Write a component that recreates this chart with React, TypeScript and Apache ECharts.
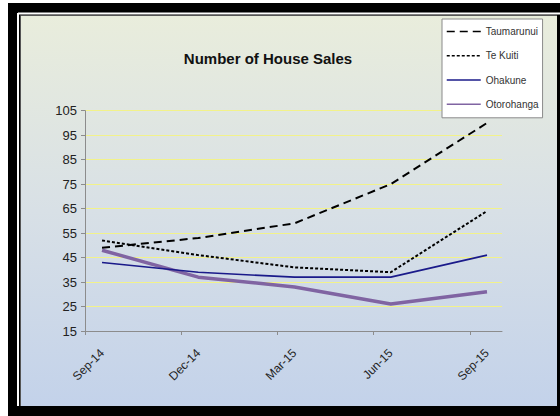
import React, { useEffect, useRef } from "react";
import * as echarts from "echarts";

const categories = ["Sep-14", "Dec-14", "Mar-15", "Jun-15", "Sep-15"];
const taumarunui = [49, 53, 59, 75, 100];
const teKuiti = [52, 46, 41, 39, 64];
const ohakune = [43, 39, 37, 37, 46];
const otorohanga = [48, 37, 33, 26, 31];
const yTicks = [15, 25, 35, 45, 55, 65, 75, 85, 95, 105];

const X_MIN = -0.177;
const X_MAX = 4.156;

const toPairs = (vals: number[]) => vals.map((v, i) => [i, v]);

export default function App() {
  const ref = useRef<HTMLDivElement>(null);
  useEffect(() => {
    if (!ref.current) return;
    const chart = echarts.init(ref.current, null, { renderer: "svg" });
    const font = "'Liberation Sans', Arial, sans-serif";
    const idx = categories.map((_, i) => i);
    const legendItem = (name: string) => ({
      name,
      itemStyle: { opacity: 0 },
      lineStyle: { width: 1.5 },
    });
    chart.setOption({
      animation: false,
      backgroundColor: "#ffffff",
      graphic: [
        { type: "rect", z: -10, silent: true, shape: { x: 8, y: 3, width: 552, height: 413 }, style: { fill: "#000000" } },
        {
          type: "rect", z: -9, silent: true,
          shape: { x: 21, y: 16, width: 536, height: 390 },
          style: {
            fill: new echarts.graphic.LinearGradient(0, 0, 0, 1, [
              { offset: 0, color: "#e9eddc" },
              { offset: 0.5, color: "#d8e0e6" },
              { offset: 1, color: "#c3d2ea" },
            ]),
          },
        },
        { type: "line", z: -8, silent: true, shape: { x1: 18, y1: 13.5, x2: 560, y2: 13.5 }, style: { stroke: "#ffffff", lineWidth: 2 } },
        { type: "line", z: -8, silent: true, shape: { x1: 18, y1: 13, x2: 18, y2: 406 }, style: { stroke: "#ffffff", lineWidth: 2 } },
        { type: "line", z: -8, silent: true, shape: { x1: 20.5, y1: 15.5, x2: 557, y2: 15.5 }, style: { stroke: "#555555", lineWidth: 1 } },
        { type: "line", z: -8, silent: true, shape: { x1: 20.5, y1: 15.5, x2: 20.5, y2: 406 }, style: { stroke: "#555555", lineWidth: 1 } },
      ],
      title: {
        text: "Number of House Sales",
        left: 263,
        top: 46,
        textAlign: "center",
        textStyle: { fontFamily: font, fontSize: 15, fontWeight: "bold", color: "#111111" },
      },
      legend: {
        orient: "vertical",
        left: 442,
        top: 19,
        padding: [7, 4, 8, 4],
        itemWidth: 34,
        itemHeight: 14,
        itemGap: 13,
        backgroundColor: "#ffffff",
        borderColor: "#8a8a8a",
        borderWidth: 1,
        itemStyle: { opacity: 0 },
        textStyle: { fontFamily: font, fontSize: 10, color: "#333333" },
        data: [
          legendItem("Taumarunui"),
          legendItem("Te Kuiti"),
          legendItem("Ohakune"),
          legendItem("Otorohanga"),
        ],
      },
      grid: { left: 85, right: 58, top: 110.7, bottom: 85, containLabel: false },
      xAxis: {
        type: "value",
        min: X_MIN,
        max: X_MAX,
        splitLine: { show: false },
        axisLine: { show: true, onZero: false, lineStyle: { color: "#8c8c8c", width: 1 } },
        axisTick: {
          show: true,
          length: 4,
          inside: false,
          customValues: idx.map((i) => i + X_MIN),
          lineStyle: { color: "#8c8c8c" },
        },
        axisLabel: {
          customValues: idx,
          rotate: 45,
          margin: 20,
          fontFamily: font,
          fontSize: 12,
          color: "#222222",
          formatter: (v: number) => categories[Math.round(v)] ?? "",
        },
      },
      yAxis: {
        type: "value",
        min: yTicks[0],
        max: yTicks[yTicks.length - 1],
        interval: 10,
        axisLine: { show: true, onZero: false, lineStyle: { color: "#8c8c8c", width: 1 } },
        axisTick: { show: true, length: 4, lineStyle: { color: "#8c8c8c" } },
        axisLabel: { margin: 8, fontFamily: font, fontSize: 13, color: "#222222" },
        splitLine: { show: true, lineStyle: { color: "#f2f28a", width: 1 } },
      },
      series: [
        {
          name: "Taumarunui", type: "line", symbol: "none", data: toPairs(taumarunui),
          lineStyle: { color: "#000000", width: 2, type: [8, 5] }, itemStyle: { color: "#000000" }, z: 3,
        },
        {
          name: "Te Kuiti", type: "line", symbol: "none", data: toPairs(teKuiti),
          lineStyle: { color: "#000000", width: 2, type: [3, 2] }, itemStyle: { color: "#000000" }, z: 3,
        },
        {
          name: "Ohakune", type: "line", symbol: "none", data: toPairs(ohakune),
          lineStyle: { color: "#1a1a8a", width: 1.6 }, itemStyle: { color: "#1a1a8a" }, z: 3,
        },
        {
          name: "Otorohanga", type: "line", symbol: "none", data: toPairs(otorohanga),
          lineStyle: { color: "#8064a2", width: 3.5 }, itemStyle: { color: "#8064a2" }, z: 2,
        },
      ],
    });
    return () => chart.dispose();
  }, []);
  return (
    <div
      ref={ref}
      style={{ position: "absolute", left: 0, top: 0, width: 560, height: 416 }}
    />
  );
}
